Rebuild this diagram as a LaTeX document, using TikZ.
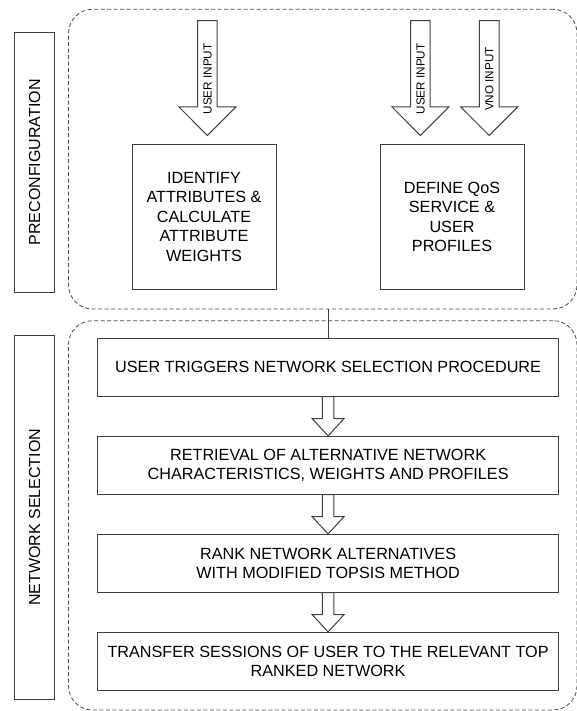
\documentclass[tikz,border=0pt]{standalone}
\usepackage{fontspec}
\setmainfont{Liberation Sans}
\usetikzlibrary{calc}
\tikzset{
  box/.style={draw=black!75, line width=1pt, fill=white, align=center,
    font=\fontsize{16.2}{19.5}\selectfont, inner sep=0pt},
  region/.style={draw=black!70, line width=.8pt, dash pattern=on 4pt off 2.5pt,
    rounded corners=24pt, inner sep=0pt},
  lbl/.style={draw=black!75, line width=1pt, rotate=90,
    font=\fontsize{16}{19}\selectfont, inner sep=0pt},
  hollow/.style={draw=black!75, line width=1pt, fill=white},
  inlbl/.style={rotate=90, font=\fontsize{11.7}{14}\selectfont, inner sep=0pt},
  link/.style={draw=black!75, line width=1pt}
}
% from, to, shaft half width, head half width, head length, gap
\newcommand{\hollowarrow}[6]{%
  \draw[hollow] let \p1=(#1), \p2=(#2) in
    (\x1-#3,\y1) -- (\x1-#3,\y2+#6+#5) -- (\x1-#4,\y2+#6+#5) -- (\x1,\y2+#6)
    -- (\x1+#4,\y2+#6+#5) -- (\x1+#3,\y2+#6+#5) -- (\x1+#3,\y1) -- cycle;}

\begin{document}
\begin{tikzpicture}[x=1pt,y=-1pt]
\useasboundingbox (0,0) rectangle (576,711);
\node[region, minimum width=508.5pt, minimum height=299.7pt] (pre) at (322.75,159.15) {};
\node[region, minimum width=508.5pt, minimum height=389.3pt] (sel) at (322.75,515.35) {};
\node[lbl, minimum width=260pt, minimum height=39.7pt] (prelbl) at (34.55,162.3) {PRECONFIGURATION};
\node[lbl, minimum width=363.3pt, minimum height=39.7pt] (sellbl) at (34.55,517.35) {NETWORK SELECTION};

\node[box, minimum width=144pt, minimum height=144pt] (attr) at (204,217)
  {IDENTIFY\\ATTRIBUTES \&\\CALCULATE\\ATTRIBUTE\\WEIGHTS};
\node[box, minimum width=144pt, minimum height=144pt] (prof) at (452,217)
  {DEFINE QoS\\SERVICE \&\\USER\\PROFILES};

\coordinate (in1) at (207.4,20.7);
\coordinate (in2) at (420.4,20.7);
\coordinate (in3) at (489.2,20.7);
\hollowarrow{in1}{attr.north}{9.8pt}{28.6pt}{28.7pt}{9pt}
\hollowarrow{in2}{prof.north}{9.8pt}{28.6pt}{28.7pt}{9pt}
\hollowarrow{in3}{prof.north}{9.8pt}{28.6pt}{28.7pt}{9pt}
\node[inlbl] (u1) at (207.6,79) {USER INPUT};
\node[inlbl] (u2) at (420.6,79) {USER INPUT};
\node[inlbl] (vno) at (489.4,79) {VNO INPUT};

\node[box, minimum width=461.4pt, minimum height=57.7pt] (trig) at (328.1,367.2)
  {USER TRIGGERS NETWORK SELECTION PROCEDURE};
\node[box, minimum width=461.4pt, minimum height=57.7pt] (retr) at (328.1,465.3)
  {RETRIEVAL OF ALTERNATIVE NETWORK\\CHARACTERISTICS, WEIGHTS AND PROFILES};
\node[box, minimum width=461.4pt, minimum height=57.7pt] (rank) at (328.1,563.3)
  {RANK NETWORK ALTERNATIVES\\WITH MODIFIED TOPSIS METHOD};
\node[box, minimum width=461.4pt, minimum height=57.7pt] (trans) at (328.1,661.3)
  {TRANSFER SESSIONS OF USER TO THE RELEVANT TOP\\RANKED NETWORK};

\draw[link] (pre.south -| trig.north) -- (trig.north);
\hollowarrow{trig.south}{retr.north}{5.8pt}{16pt}{17.4pt}{0pt}
\hollowarrow{retr.south}{rank.north}{5.8pt}{16pt}{17.4pt}{0pt}
\hollowarrow{rank.south}{trans.north}{5.8pt}{16pt}{17.4pt}{0pt}
\end{tikzpicture}
\end{document}
